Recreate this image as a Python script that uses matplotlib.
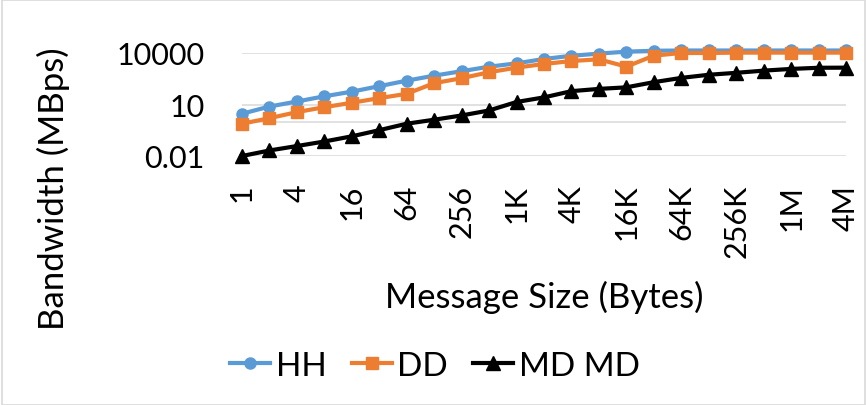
import matplotlib
matplotlib.use("Agg")
import matplotlib.pyplot as plt
from matplotlib.patches import Rectangle

plt.rcParams['font.family'] = ['Lato', 'DejaVu Sans']

sizes = ["1", "2", "4", "8", "16", "32", "64", "128", "256", "512",
         "1K", "2K", "4K", "8K", "16K", "32K", "64K", "128K", "256K", "512K",
         "1M", "2M", "4M"]

hh = [2.9, 7.6, 15, 30, 56, 117, 245, 480, 870, 1600, 2500, 4500, 6900,
      9200, 12000, 13500, 14000, 14000, 14000, 14000, 14000, 14000, 14000]
dd = [0.76, 1.6, 3.6, 7, 12.6, 23.5, 42, 175, 340, 760, 1400, 2300, 3400,
      4300, 1600, 7000, 10000, 10000, 10500, 10500, 10500, 10500, 10500]
md = [0.01, 0.021, 0.038, 0.07, 0.14, 0.32, 0.76, 1.3, 2.3, 4.5, 14, 26, 60,
      81, 100, 200, 355, 540, 700, 940, 1180, 1380, 1400]

y_ticks = [0.01, 10, 10000]
y_tick_labels = ["0.01", "10", "10000"]

fig = plt.figure(figsize=(8.66, 4.06), dpi=100)
ax = fig.add_axes([242 / 866, 1 - 157 / 406, 604 / 866, 103 / 406])

x = list(range(len(sizes)))
grid_c = "#d9d9d9"
for v in y_ticks + [1]:
    ax.axhline(v, color=grid_c, lw=1.1, zorder=0)

ax.plot(x, hh, color="#5B9BD5", lw=3, marker="o", ms=8, label="HH",
        clip_on=False, zorder=3)
ax.plot(x, dd, color="#ED7D31", lw=3, marker="s", ms=8, label="DD",
        clip_on=False, zorder=4)
ax.plot(x, md, color="black", lw=3, marker="^", ms=10, label="MD MD",
        clip_on=False, zorder=5)

ax.set_yscale("log")
ax.set_ylim(0.01, 10000)
ax.set_xlim(0, len(sizes) - 1)
ax.minorticks_off()
ax.set_yticks(y_ticks)
ax.set_yticklabels(y_tick_labels)
ax.set_xticks(x[::2])
ax.set_xticklabels(sizes[::2], rotation=90, va="top", ha="center")
ax.tick_params(axis="both", length=0, labelsize=22, colors="black")
ax.tick_params(axis="x", pad=20)
ax.tick_params(axis="y", pad=27)
for s in ax.spines.values():
    s.set_visible(False)

ax.set_xlabel("Message Size (Bytes)", fontsize=25)
ax.xaxis.set_label_coords(0.5, -1.2)
ax.set_ylabel("Bandwidth (MBps)", fontsize=25, va="center")
ax.yaxis.set_label_coords(-0.313, -0.31)

fig.legend(loc="center", bbox_to_anchor=(435 / 866, 1 - 367 / 406), ncol=3,
           frameon=False, fontsize=24, handlelength=1.2, handletextpad=0.18,
           columnspacing=0.75, borderaxespad=0)

fig.patches.append(Rectangle((1.5 / 866, 0.5 / 406), 863 / 866, 404.5 / 406,
                             transform=fig.transFigure, fill=False,
                             edgecolor="#d9d9d9", lw=1.2))

fig.savefig("out.png", dpi=100)
